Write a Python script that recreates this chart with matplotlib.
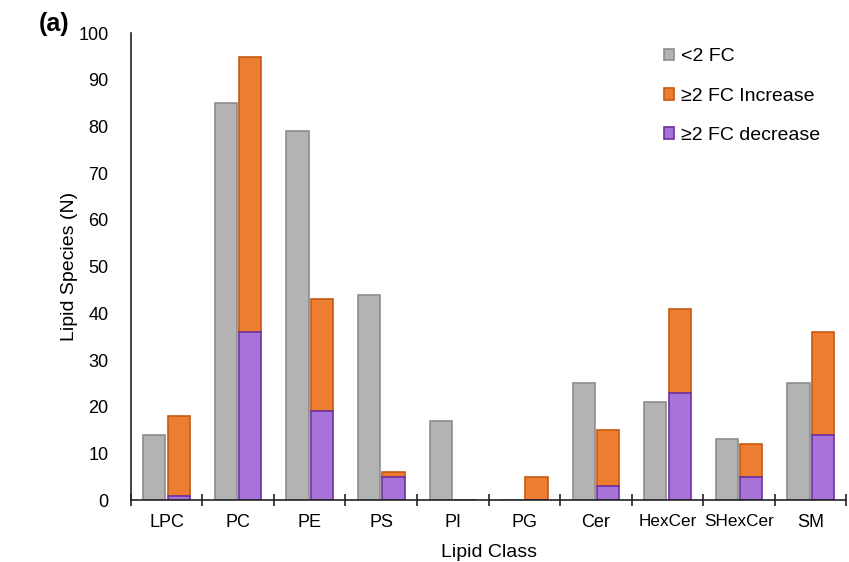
import matplotlib
matplotlib.use("Agg")
import matplotlib.pyplot as plt
import numpy as np

plt.rcParams['font.family'] = ['Liberation Sans', 'DejaVu Sans']

categories = ["LPC", "PC", "PE", "PS", "PI", "PG", "Cer", "HexCer", "SHexCer", "SM"]
lt2fc = [14, 85, 79, 44, 17, 0, 25, 21, 13, 25]
decrease = [1, 36, 19, 5, 0, 0, 3, 23, 5, 14]
increase = [17, 59, 24, 1, 0, 5, 12, 18, 7, 22]

fig = plt.figure(figsize=(8.49, 5.62), dpi=100)
ax = fig.add_axes([0.154, 0.11, 0.843, 0.831])

x = np.arange(len(categories))
w = 0.31
off = 0.17
gray_c, gray_e = "#B3B3B3", "#8C8C8C"
org_c, org_e = "#ED7D31", "#C55A11"
pur_c, pur_e = "#A873D9", "#7030A0"

ax.bar(x - off, lt2fc, w, color=gray_c, edgecolor=gray_e, linewidth=1.2, label="<2 FC")
ax.bar(x + off, increase, w, bottom=decrease, color=org_c, edgecolor=org_e, linewidth=1.2, label="≥2 FC Increase")
ax.bar(x + off, decrease, w, color=pur_c, edgecolor=pur_e, linewidth=1.2, label="≥2 FC decrease")

ax.set_xlim(-0.5, len(categories) - 0.5)
ax.set_ylim(0, 100)
ax.set_yticks(range(0, 101, 10))
ax.set_xticks(x)
ax.set_xticklabels(categories, fontsize=13)
for lab in ax.get_xticklabels():
    if len(lab.get_text()) > 4:
        lab.set_fontsize(12.3)
ax.set_xticks(np.arange(-0.5, len(categories), 1), minor=True)
ax.tick_params(axis='x', which='major', length=0, pad=10)
ax.tick_params(axis='x', which='minor', length=8, direction='inout', width=1.2, color='#222222')
ax.tick_params(axis='y', length=0, labelsize=13, pad=16)

for s in ['top', 'right']:
    ax.spines[s].set_visible(False)
ax.spines['left'].set_color('#222222')
ax.spines['bottom'].set_color('#222222')
ax.spines['left'].set_linewidth(1.2)
ax.spines['bottom'].set_linewidth(1.2)

ax.set_ylabel("Lipid Species (N)", fontsize=14, labelpad=0)
ax.set_xlabel("Lipid Class", fontsize=14, labelpad=9)

ax.legend(loc='upper left', bbox_to_anchor=(0.72, 1.005), frameon=False, fontsize=14,
          handlelength=0.55, handleheight=0.55, handletextpad=0.35, labelspacing=1.15)

fig.text(0.046, 0.978, "(a)", fontsize=18, fontweight='bold', va='top')

fig.savefig("out.png", dpi=100)
